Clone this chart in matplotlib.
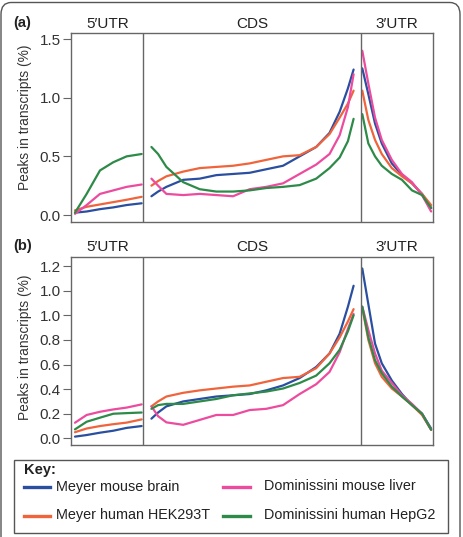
import numpy as np
import matplotlib
matplotlib.use("Agg")
import matplotlib.pyplot as plt
from matplotlib.patches import FancyBboxPatch, Rectangle
from matplotlib.lines import Line2D

# -- Data: relative position along each region (0 = start, 1 = end) -------
utr5_pos = [0.0, 0.175, 0.375, 0.575, 0.775, 1.0]
cds_pos = [0.0, 0.033, 0.074, 0.157, 0.239, 0.321, 0.404, 0.486, 0.568,
           0.651, 0.733, 0.815, 0.881, 0.931, 0.972, 1.0]
utr3_pos = [0.0, 0.088, 0.185, 0.283, 0.429, 0.576, 0.722, 0.868, 1.0]

SERIES = ["Meyer mouse brain", "Meyer human HEK293T",
          "Dominissini mouse liver", "Dominissini human HepG2"]
COLORS = ["#2a4fa0", "#f0643c", "#ec4b9e", "#2e8a48"]

# panel (a)
a_utr5_brain = [0.02, 0.03, 0.05, 0.065, 0.085, 0.10]
a_utr5_hek = [0.04, 0.07, 0.09, 0.11, 0.13, 0.155]
a_utr5_liver = [0.01, 0.085, 0.18, 0.21, 0.24, 0.26]
a_utr5_hepg2 = [0.02, 0.18, 0.38, 0.45, 0.50, 0.52]

a_cds_brain = [0.16, 0.20, 0.24, 0.30, 0.31, 0.34, 0.35, 0.36, 0.39, 0.42,
               0.50, 0.58, 0.70, 0.88, 1.08, 1.24]
a_cds_hek = [0.25, 0.29, 0.33, 0.37, 0.40, 0.41, 0.42, 0.44, 0.47, 0.50,
             0.51, 0.58, 0.69, 0.83, 0.95, 1.06]
a_cds_liver = [0.31, 0.25, 0.18, 0.17, 0.18, 0.17, 0.16, 0.22, 0.24, 0.27,
               0.35, 0.43, 0.52, 0.68, 0.92, 1.20]
a_cds_hepg2 = [0.58, 0.52, 0.41, 0.28, 0.22, 0.20, 0.20, 0.21, 0.23, 0.24,
               0.255, 0.31, 0.40, 0.49, 0.63, 0.82]

a_utr3_brain = [1.25, 1.03, 0.78, 0.61, 0.44, 0.34, 0.27, 0.18, 0.06]
a_utr3_hek = [1.06, 0.81, 0.64, 0.52, 0.40, 0.33, 0.27, 0.18, 0.085]
a_utr3_liver = [1.40, 1.12, 0.83, 0.64, 0.47, 0.35, 0.28, 0.17, 0.03]
a_utr3_hepg2 = [0.86, 0.61, 0.50, 0.42, 0.35, 0.30, 0.21, 0.17, 0.06]

# panel (b)
b_utr5_brain = [0.014, 0.027, 0.046, 0.062, 0.085, 0.10]
b_utr5_hek = [0.05, 0.08, 0.10, 0.115, 0.128, 0.154]
b_utr5_liver = [0.127, 0.19, 0.216, 0.235, 0.25, 0.276]
b_utr5_hepg2 = [0.073, 0.135, 0.168, 0.20, 0.205, 0.21]

b_cds_brain = [0.16, 0.21, 0.26, 0.30, 0.32, 0.34, 0.35, 0.36, 0.39, 0.43,
               0.49, 0.58, 0.69, 0.85, 1.07, 1.24]
b_cds_hek = [0.26, 0.30, 0.34, 0.37, 0.39, 0.405, 0.42, 0.43, 0.46, 0.49,
             0.50, 0.57, 0.69, 0.82, 0.95, 1.05]
b_cds_liver = [0.26, 0.18, 0.13, 0.11, 0.15, 0.19, 0.19, 0.23, 0.24, 0.27,
               0.36, 0.44, 0.54, 0.70, 0.89, 1.01]
b_cds_hepg2 = [0.24, 0.27, 0.28, 0.28, 0.30, 0.32, 0.35, 0.365, 0.38, 0.405,
               0.45, 0.51, 0.61, 0.72, 0.87, 1.00]

b_utr3_brain = [1.38, 1.09, 0.77, 0.61, 0.47, 0.36, 0.27, 0.20, 0.08]
b_utr3_hek = [1.06, 0.80, 0.61, 0.50, 0.405, 0.34, 0.27, 0.19, 0.07]
b_utr3_liver = [1.07, 0.88, 0.69, 0.55, 0.45, 0.35, 0.28, 0.20, 0.07]
b_utr3_hepg2 = [1.07, 0.82, 0.635, 0.53, 0.42, 0.34, 0.27, 0.20, 0.07]

a_ticks = [0.0, 0.5, 1.0, 1.5]
a_ticklabels = ["0.0", "0.5", "1.0", "1.5"]
b_ticks = [0.0, 0.2, 0.4, 0.6, 0.8, 1.0, 1.2, 1.4]
b_ticklabels = ["0.0", "0.2", "0.4", "0.6", "0.8", "1.0", "1.0", "1.2"]

REGIONS = ["5\u2032UTR", "CDS", "3\u2032UTR"]

# -- Plot ---------------------------------------------------------------
plt.rcParams.update({
    "font.family": "Liberation Sans",
    "font.size": 11,
})

W, H = 463, 537
fig = plt.figure(figsize=(W / 100, H / 100), dpi=100)

# outer rounded frame (bottom edge runs off the image)
fig.patches.append(FancyBboxPatch(
    (1.0 / W, -0.05), (459 / W), 1.05 - 2.5 / H,
    boxstyle="round,pad=0,rounding_size=0.022", transform=fig.transFigure,
    facecolor="none", edgecolor="#555555", linewidth=1.0))

# region extents on the x axis: box is 0..5, dividers at 1 and 4
line_span = [(0.055, 0.975), (1.11, 3.90), (4.02, 4.97)]
GREY = "#666666"
TXT = "#333333"


def draw_panel(rect, label, regions_data, ticks, ticklabels, ylim, label_y):
    ax = fig.add_axes(rect)
    for (x0, x1), (pos, series) in zip(line_span, regions_data):
        xs = x0 + np.asarray(pos) * (x1 - x0)
        for ys, c in zip(series, COLORS):
            ax.plot(xs, ys, color=c, linewidth=1.6, solid_capstyle="round",
                    solid_joinstyle="round")
    for xv in (1, 4):
        ax.axvline(xv, color=GREY, linewidth=1.0)
    ax.set_xlim(0, 5)
    ax.set_ylim(*ylim)
    ax.set_xticks([])
    ax.set_yticks(ticks)
    ax.set_yticklabels(ticklabels, color=TXT, fontsize=11)
    ax.tick_params(axis="y", length=6, width=0.8, color=GREY, pad=1.5)
    for s in ax.spines.values():
        s.set_color(GREY)
        s.set_linewidth(1.0)
    ax.set_ylabel("Peaks in transcripts (%)", color=TXT, fontsize=9.9)
    ax.yaxis.set_label_coords(-0.108, label_y)
    centers = [0.5, 2.5, 4.5]
    for cx, name in zip(centers, REGIONS):
        ax.text(cx, 1.012, name, transform=ax.get_xaxis_transform(),
                ha="center", va="bottom", fontsize=11, color="#222222")
    fig.text(13 / W, rect[1] + rect[3] + 0.006, label, fontweight="bold",
             fontsize=10.5, ha="left", va="bottom", color="#222222")
    return ax


regions_a = [
    (utr5_pos, [a_utr5_brain, a_utr5_hek, a_utr5_liver, a_utr5_hepg2]),
    (cds_pos, [a_cds_brain, a_cds_hek, a_cds_liver, a_cds_hepg2]),
    (utr3_pos, [a_utr3_brain, a_utr3_hek, a_utr3_liver, a_utr3_hepg2]),
]
regions_b = [
    (utr5_pos, [b_utr5_brain, b_utr5_hek, b_utr5_liver, b_utr5_hepg2]),
    (cds_pos, [b_cds_brain, b_cds_hek, b_cds_liver, b_cds_hepg2]),
    (utr3_pos, [b_utr3_brain, b_utr3_hek, b_utr3_liver, b_utr3_hepg2]),
]

left, width = 71 / W, 362.3 / W
draw_panel([left, 1 - 221.7 / H, width, 188.4 / H], "(a)", regions_a,
           a_ticks, a_ticklabels, (-0.057, 1.549), 0.553)
draw_panel([left, 1 - 445 / H, width, 188.3 / H], "(b)", regions_b,
           b_ticks, b_ticklabels, (-0.054, 1.476), 0.518)

# key box
fig.patches.append(Rectangle((14 / W, 1 - 532.5 / H), 434 / W, 72.5 / H,
                             transform=fig.transFigure, facecolor="none",
                             edgecolor="#555555", linewidth=1.0))
fig.text(24 / W, 1 - 470 / H, "Key:", fontweight="bold", fontsize=10.5,
         ha="left", va="center", color="#222222")
key_rows = [1 - 486.5 / H, 1 - 515.5 / H]
key_cols = [(24, 50, 56), (223, 250, 264)]
order = [(0, 0), (1, 0), (0, 1), (1, 1)]
for (r, ccol), name, c in zip(order, SERIES, COLORS):
    x0, x1, xt = key_cols[ccol]
    y = key_rows[r]
    fig.lines.append(Line2D([x0 / W, x1 / W], [y, y], color=c, linewidth=2.4,
                            transform=fig.transFigure))
    fig.text(xt / W, y, name, fontsize=10.4, ha="left", va="center",
             color="#222222")

fig.savefig("out.png", dpi=100)
